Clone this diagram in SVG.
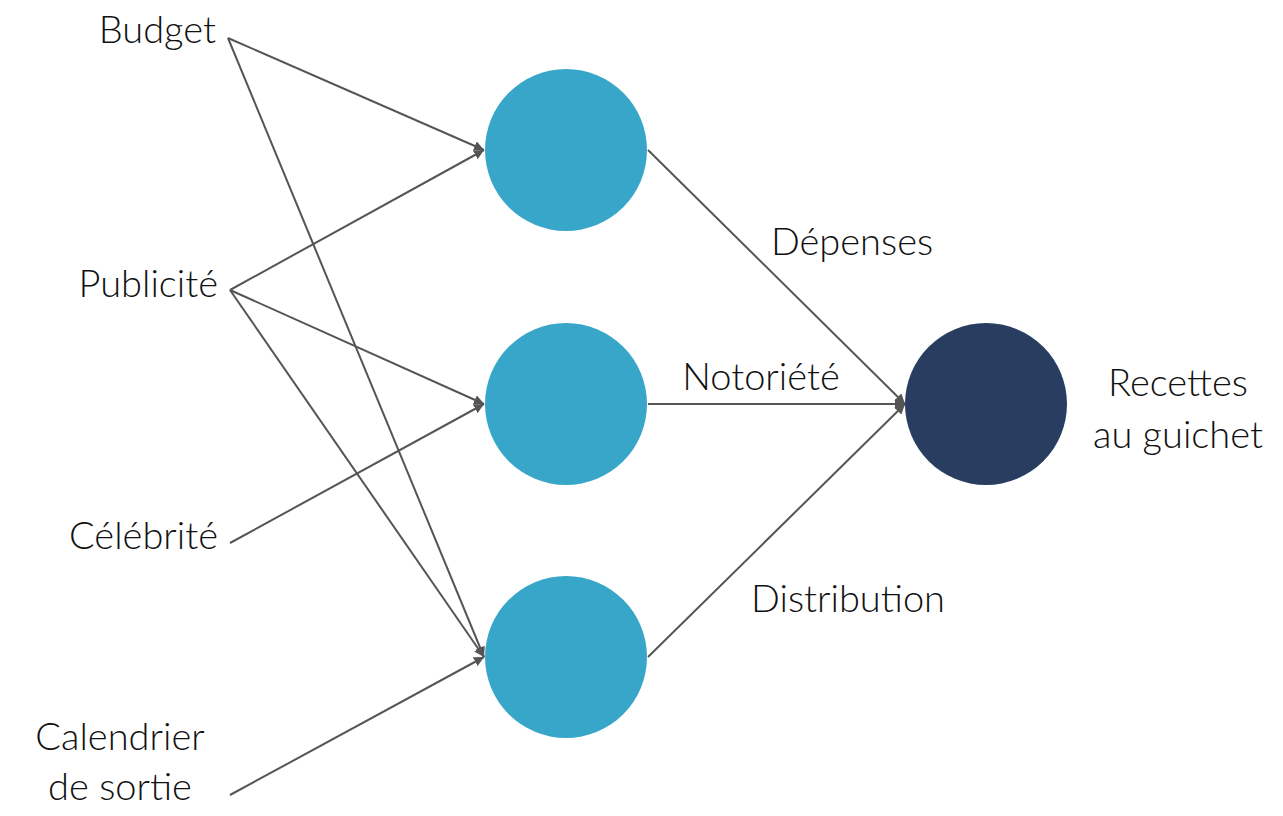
<svg xmlns="http://www.w3.org/2000/svg" width="1283" height="816" viewBox="0 0 1283 816">
<style>
text{font-family:Lato,"Open Sans",sans-serif;font-weight:300;font-size:38px;fill:#111}
.c{fill:#38a6c9}
.e{stroke:#555;stroke-width:2;fill:none;marker-end:url(#a)}
</style>
<defs><marker id="a" viewBox="0 0 10 10" refX="10" refY="5" markerWidth="10" markerHeight="10" markerUnits="userSpaceOnUse" orient="auto"><path d="M0,0L10,5L0,10z" fill="#555"/></marker></defs>
<rect width="1283" height="816" fill="#fff"/>
<g id="connectors">
<line class="e" x1="228" y1="38" x2="484" y2="150"/>
<line class="e" x1="228" y1="38" x2="484" y2="657"/>
<line class="e" x1="230" y1="290" x2="484" y2="150"/>
<line class="e" x1="230" y1="290" x2="484" y2="404"/>
<line class="e" x1="230" y1="290" x2="484" y2="657"/>
<line class="e" x1="230" y1="543" x2="484" y2="404"/>
<line class="e" x1="230" y1="795" x2="484" y2="657"/>
<line class="e" x1="648" y1="150" x2="905" y2="404"/>
<line class="e" x1="648" y1="404" x2="905" y2="404"/>
<line class="e" x1="648" y1="657" x2="905" y2="404"/>
</g>
<g id="h1"><circle class="c" cx="566" cy="150" r="81"/></g>
<g id="h2"><circle class="c" cx="566" cy="404" r="81"/></g>
<g id="h3"><circle class="c" cx="566" cy="657" r="81"/></g>
<g id="out"><circle cx="986" cy="404" r="81" fill="#283d60"/><text x="1178" y="396" text-anchor="middle">Recettes</text><text x="1178" y="448" text-anchor="middle">au guichet</text></g>
<g id="in1"><text x="216" y="43" text-anchor="end">Budget</text></g>
<g id="in2"><text x="218" y="297" text-anchor="end">Publicité</text></g>
<g id="in3"><text x="218" y="549" text-anchor="end">Célébrité</text></g>
<g id="in4"><text x="120" y="750" text-anchor="middle">Calendrier</text><text x="120" y="800" text-anchor="middle">de sortie</text></g>
<g id="labels">
<text x="852" y="255" text-anchor="middle">Dépenses</text>
<text x="761" y="390" text-anchor="middle">Notoriété</text>
<text x="848" y="612" text-anchor="middle">Distribution</text>
</g>
</svg>
